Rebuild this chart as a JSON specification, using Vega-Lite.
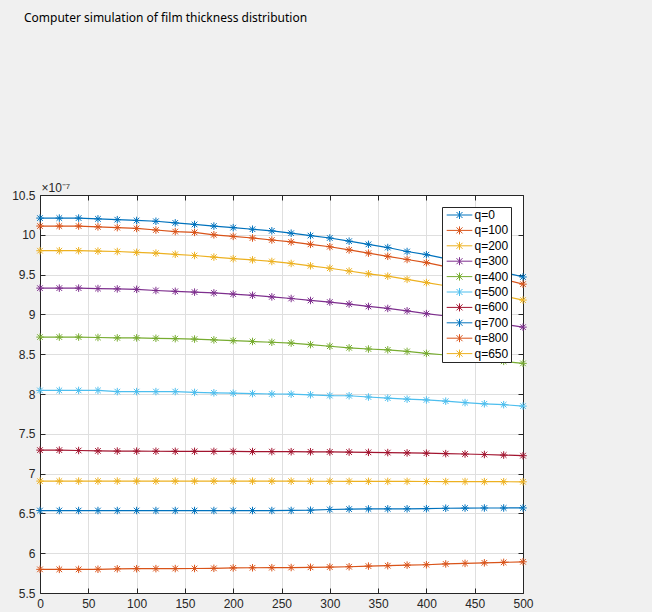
{
  "$schema": "https://vega.github.io/schema/vega-lite/v6.json",
  "autosize": "none",
  "width": 483,
  "height": 398,
  "padding": {"left": 40, "top": 195, "right": 129, "bottom": 19},
  "background": "#f0f0f0",
  "title": {"text": "Computer simulation of film thickness distribution", "anchor": "start", "frame": "group", "offset": 156, "dx": -16, "font": "Noto Sans", "fontSize": 12, "fontWeight": "normal", "color": "#000000"},
  "config": {
    "view": {"stroke": null, "fill": "white"},
    "axis": {"labelFont": "Liberation Sans", "labelFontSize": 12, "labelColor": "#262626", "domainColor": "#262626", "tickColor": "#262626", "tickSize": -5, "labelPadding": 9, "labelFlush": false, "gridColor": "#dfdfdf", "titleFont": "Liberation Sans", "titleFontWeight": "normal"}
  },
  "datasets": {
    "sim": [
      {"q":"q=0","x":0,"t":10.21},{"q":"q=0","x":20,"t":10.21},{"q":"q=0","x":40,"t":10.21},{"q":"q=0","x":60,"t":10.2},{"q":"q=0","x":80,"t":10.19},{"q":"q=0","x":100,"t":10.18},{"q":"q=0","x":120,"t":10.17},{"q":"q=0","x":140,"t":10.15},{"q":"q=0","x":160,"t":10.13},{"q":"q=0","x":180,"t":10.11},{"q":"q=0","x":200,"t":10.09},{"q":"q=0","x":220,"t":10.07},{"q":"q=0","x":240,"t":10.05},{"q":"q=0","x":260,"t":10.02},{"q":"q=0","x":280,"t":9.99},{"q":"q=0","x":300,"t":9.96},{"q":"q=0","x":320,"t":9.92},{"q":"q=0","x":340,"t":9.88},{"q":"q=0","x":360,"t":9.84},{"q":"q=0","x":380,"t":9.79},{"q":"q=0","x":400,"t":9.75},{"q":"q=0","x":420,"t":9.7},{"q":"q=0","x":440,"t":9.64},{"q":"q=0","x":460,"t":9.59},{"q":"q=0","x":480,"t":9.53},{"q":"q=0","x":500,"t":9.47},
      {"q":"q=100","x":0,"t":10.11},{"q":"q=100","x":20,"t":10.11},{"q":"q=100","x":40,"t":10.11},{"q":"q=100","x":60,"t":10.1},{"q":"q=100","x":80,"t":10.09},{"q":"q=100","x":100,"t":10.08},{"q":"q=100","x":120,"t":10.06},{"q":"q=100","x":140,"t":10.04},{"q":"q=100","x":160,"t":10.03},{"q":"q=100","x":180,"t":10.0},{"q":"q=100","x":200,"t":9.98},{"q":"q=100","x":220,"t":9.96},{"q":"q=100","x":240,"t":9.935},{"q":"q=100","x":260,"t":9.91},{"q":"q=100","x":280,"t":9.88},{"q":"q=100","x":300,"t":9.85},{"q":"q=100","x":320,"t":9.81},{"q":"q=100","x":340,"t":9.77},{"q":"q=100","x":360,"t":9.73},{"q":"q=100","x":380,"t":9.69},{"q":"q=100","x":400,"t":9.65},{"q":"q=100","x":420,"t":9.6},{"q":"q=100","x":440,"t":9.55},{"q":"q=100","x":460,"t":9.5},{"q":"q=100","x":480,"t":9.44},{"q":"q=100","x":500,"t":9.38},
      {"q":"q=200","x":0,"t":9.8},{"q":"q=200","x":20,"t":9.8},{"q":"q=200","x":40,"t":9.8},{"q":"q=200","x":60,"t":9.795},{"q":"q=200","x":80,"t":9.79},{"q":"q=200","x":100,"t":9.78},{"q":"q=200","x":120,"t":9.77},{"q":"q=200","x":140,"t":9.755},{"q":"q=200","x":160,"t":9.74},{"q":"q=200","x":180,"t":9.72},{"q":"q=200","x":200,"t":9.7},{"q":"q=200","x":220,"t":9.685},{"q":"q=200","x":240,"t":9.665},{"q":"q=200","x":260,"t":9.64},{"q":"q=200","x":280,"t":9.61},{"q":"q=200","x":300,"t":9.58},{"q":"q=200","x":320,"t":9.545},{"q":"q=200","x":340,"t":9.51},{"q":"q=200","x":360,"t":9.48},{"q":"q=200","x":380,"t":9.44},{"q":"q=200","x":400,"t":9.4},{"q":"q=200","x":420,"t":9.36},{"q":"q=200","x":440,"t":9.32},{"q":"q=200","x":460,"t":9.27},{"q":"q=200","x":480,"t":9.23},{"q":"q=200","x":500,"t":9.18},
      {"q":"q=300","x":0,"t":9.33},{"q":"q=300","x":20,"t":9.33},{"q":"q=300","x":40,"t":9.33},{"q":"q=300","x":60,"t":9.325},{"q":"q=300","x":80,"t":9.32},{"q":"q=300","x":100,"t":9.315},{"q":"q=300","x":120,"t":9.3},{"q":"q=300","x":140,"t":9.29},{"q":"q=300","x":160,"t":9.28},{"q":"q=300","x":180,"t":9.27},{"q":"q=300","x":200,"t":9.255},{"q":"q=300","x":220,"t":9.24},{"q":"q=300","x":240,"t":9.22},{"q":"q=300","x":260,"t":9.2},{"q":"q=300","x":280,"t":9.175},{"q":"q=300","x":300,"t":9.155},{"q":"q=300","x":320,"t":9.13},{"q":"q=300","x":340,"t":9.1},{"q":"q=300","x":360,"t":9.075},{"q":"q=300","x":380,"t":9.045},{"q":"q=300","x":400,"t":9.01},{"q":"q=300","x":420,"t":8.98},{"q":"q=300","x":440,"t":8.945},{"q":"q=300","x":460,"t":8.91},{"q":"q=300","x":480,"t":8.875},{"q":"q=300","x":500,"t":8.84},
      {"q":"q=400","x":0,"t":8.715},{"q":"q=400","x":20,"t":8.715},{"q":"q=400","x":40,"t":8.715},{"q":"q=400","x":60,"t":8.71},{"q":"q=400","x":80,"t":8.705},{"q":"q=400","x":100,"t":8.705},{"q":"q=400","x":120,"t":8.7},{"q":"q=400","x":140,"t":8.695},{"q":"q=400","x":160,"t":8.69},{"q":"q=400","x":180,"t":8.68},{"q":"q=400","x":200,"t":8.67},{"q":"q=400","x":220,"t":8.66},{"q":"q=400","x":240,"t":8.65},{"q":"q=400","x":260,"t":8.64},{"q":"q=400","x":280,"t":8.62},{"q":"q=400","x":300,"t":8.6},{"q":"q=400","x":320,"t":8.58},{"q":"q=400","x":340,"t":8.565},{"q":"q=400","x":360,"t":8.555},{"q":"q=400","x":380,"t":8.535},{"q":"q=400","x":400,"t":8.51},{"q":"q=400","x":420,"t":8.49},{"q":"q=400","x":440,"t":8.465},{"q":"q=400","x":460,"t":8.44},{"q":"q=400","x":480,"t":8.41},{"q":"q=400","x":500,"t":8.385},
      {"q":"q=500","x":0,"t":8.045},{"q":"q=500","x":20,"t":8.045},{"q":"q=500","x":40,"t":8.045},{"q":"q=500","x":60,"t":8.045},{"q":"q=500","x":80,"t":8.03},{"q":"q=500","x":100,"t":8.03},{"q":"q=500","x":120,"t":8.03},{"q":"q=500","x":140,"t":8.03},{"q":"q=500","x":160,"t":8.02},{"q":"q=500","x":180,"t":8.015},{"q":"q=500","x":200,"t":8.01},{"q":"q=500","x":220,"t":8.005},{"q":"q=500","x":240,"t":8.0},{"q":"q=500","x":260,"t":7.998},{"q":"q=500","x":280,"t":7.99},{"q":"q=500","x":300,"t":7.98},{"q":"q=500","x":320,"t":7.978},{"q":"q=500","x":340,"t":7.962},{"q":"q=500","x":360,"t":7.948},{"q":"q=500","x":380,"t":7.935},{"q":"q=500","x":400,"t":7.925},{"q":"q=500","x":420,"t":7.91},{"q":"q=500","x":440,"t":7.892},{"q":"q=500","x":460,"t":7.877},{"q":"q=500","x":480,"t":7.866},{"q":"q=500","x":500,"t":7.848},
      {"q":"q=600","x":0,"t":7.295},{"q":"q=600","x":20,"t":7.295},{"q":"q=600","x":40,"t":7.29},{"q":"q=600","x":60,"t":7.285},{"q":"q=600","x":80,"t":7.283},{"q":"q=600","x":100,"t":7.282},{"q":"q=600","x":120,"t":7.281},{"q":"q=600","x":140,"t":7.28},{"q":"q=600","x":160,"t":7.28},{"q":"q=600","x":180,"t":7.279},{"q":"q=600","x":200,"t":7.278},{"q":"q=600","x":220,"t":7.277},{"q":"q=600","x":240,"t":7.276},{"q":"q=600","x":260,"t":7.275},{"q":"q=600","x":280,"t":7.274},{"q":"q=600","x":300,"t":7.272},{"q":"q=600","x":320,"t":7.27},{"q":"q=600","x":340,"t":7.267},{"q":"q=600","x":360,"t":7.264},{"q":"q=600","x":380,"t":7.26},{"q":"q=600","x":400,"t":7.256},{"q":"q=600","x":420,"t":7.251},{"q":"q=600","x":440,"t":7.246},{"q":"q=600","x":460,"t":7.24},{"q":"q=600","x":480,"t":7.233},{"q":"q=600","x":500,"t":7.225},
      {"q":"q=700","x":0,"t":6.536},{"q":"q=700","x":20,"t":6.536},{"q":"q=700","x":40,"t":6.536},{"q":"q=700","x":60,"t":6.536},{"q":"q=700","x":80,"t":6.536},{"q":"q=700","x":100,"t":6.536},{"q":"q=700","x":120,"t":6.536},{"q":"q=700","x":140,"t":6.536},{"q":"q=700","x":160,"t":6.536},{"q":"q=700","x":180,"t":6.536},{"q":"q=700","x":200,"t":6.536},{"q":"q=700","x":220,"t":6.536},{"q":"q=700","x":240,"t":6.536},{"q":"q=700","x":260,"t":6.537},{"q":"q=700","x":280,"t":6.54},{"q":"q=700","x":300,"t":6.549},{"q":"q=700","x":320,"t":6.554},{"q":"q=700","x":340,"t":6.556},{"q":"q=700","x":360,"t":6.557},{"q":"q=700","x":380,"t":6.558},{"q":"q=700","x":400,"t":6.559},{"q":"q=700","x":420,"t":6.565},{"q":"q=700","x":440,"t":6.567},{"q":"q=700","x":460,"t":6.568},{"q":"q=700","x":480,"t":6.568},{"q":"q=700","x":500,"t":6.569},
      {"q":"q=800","x":0,"t":5.797},{"q":"q=800","x":20,"t":5.797},{"q":"q=800","x":40,"t":5.797},{"q":"q=800","x":60,"t":5.798},{"q":"q=800","x":80,"t":5.804},{"q":"q=800","x":100,"t":5.805},{"q":"q=800","x":120,"t":5.806},{"q":"q=800","x":140,"t":5.807},{"q":"q=800","x":160,"t":5.808},{"q":"q=800","x":180,"t":5.81},{"q":"q=800","x":200,"t":5.815},{"q":"q=800","x":220,"t":5.817},{"q":"q=800","x":240,"t":5.818},{"q":"q=800","x":260,"t":5.82},{"q":"q=800","x":280,"t":5.823},{"q":"q=800","x":300,"t":5.826},{"q":"q=800","x":320,"t":5.83},{"q":"q=800","x":340,"t":5.838},{"q":"q=800","x":360,"t":5.843},{"q":"q=800","x":380,"t":5.85},{"q":"q=800","x":400,"t":5.855},{"q":"q=800","x":420,"t":5.865},{"q":"q=800","x":440,"t":5.872},{"q":"q=800","x":460,"t":5.879},{"q":"q=800","x":480,"t":5.885},{"q":"q=800","x":500,"t":5.892},
      {"q":"q=650","x":0,"t":6.9059},{"q":"q=650","x":20,"t":6.9059},{"q":"q=650","x":40,"t":6.9059},{"q":"q=650","x":60,"t":6.9059},{"q":"q=650","x":80,"t":6.9059},{"q":"q=650","x":100,"t":6.9058},{"q":"q=650","x":120,"t":6.9058},{"q":"q=650","x":140,"t":6.9058},{"q":"q=650","x":160,"t":6.9057},{"q":"q=650","x":180,"t":6.9056},{"q":"q=650","x":200,"t":6.9055},{"q":"q=650","x":220,"t":6.905},{"q":"q=650","x":240,"t":6.905},{"q":"q=650","x":260,"t":6.905},{"q":"q=650","x":280,"t":6.904},{"q":"q=650","x":300,"t":6.904},{"q":"q=650","x":320,"t":6.903},{"q":"q=650","x":340,"t":6.903},{"q":"q=650","x":360,"t":6.902},{"q":"q=650","x":380,"t":6.902},{"q":"q=650","x":400,"t":6.901},{"q":"q=650","x":420,"t":6.9},{"q":"q=650","x":440,"t":6.9},{"q":"q=650","x":460,"t":6.899},{"q":"q=650","x":480,"t":6.898},{"q":"q=650","x":500,"t":6.897}
    ]
  },
  "data": {"name": "sim"},
  "layer": [
    {
      "mark": {"type": "line", "strokeWidth": 1.2, "clip": true},
      "encoding": {
        "x": {"field": "x", "type": "quantitative", "scale": {"domain": [0, 500], "nice": false}, "axis": {"orient": "bottom", "values": [0,50,100,150,200,250,300,350,400,450,500], "title": null, "grid": true, "labelPadding": 10}},
        "y": {"field": "t", "type": "quantitative", "scale": {"domain": [5.5, 10.5], "nice": false, "zero": false}, "axis": {"orient": "left", "values": [5.5,6,6.5,7,7.5,8,8.5,9,9.5,10,10.5], "format": "~g", "grid": true, "title": "×10⁻⁷", "titleAngle": 0, "titleAlign": "left", "titleBaseline": "alphabetic", "titleX": 1, "titleY": -4, "titleFontSize": 12, "titleColor": "#262626", "labelPadding": 10}},
        "color": {"field": "q", "type": "nominal", "scale": {"domain": ["q=0","q=100","q=200","q=300","q=400","q=500","q=600","q=700","q=800","q=650"], "range": ["#0072BD","#D95319","#EDB120","#7E2F8E","#77AC30","#4DBEEE","#A2142F","#0072BD","#D95319","#EDB120"]},
          "legend": {"orient": "none", "legendX": 402, "legendY": 12, "title": null, "strokeColor": "#262626", "fillColor": "white", "padding": 2, "rowPadding": 3.4, "labelFont": "Liberation Sans", "labelFontSize": 12, "labelColor": "#000000", "symbolType": "M-3.2,0L3.2,0M0,-1L0,1M-0.75,-0.75L0.75,0.75M-0.75,0.75L0.75,-0.75", "symbolSize": 64, "symbolStrokeWidth": 1, "symbolFillColor": "transparent", "symbolOffset": 9.5, "labelOffset": 9}}
      }
    },
    {
      "mark": {"type": "point", "shape": "M-1,0L1,0M0,-1L0,1M-0.75,-0.75L0.75,0.75M-0.75,0.75L0.75,-0.75", "filled": false, "size": 56, "strokeWidth": 1, "opacity": 1},
      "encoding": {
        "x": {"field": "x", "type": "quantitative", "axis": {"orient": "top", "values": [0,50,100,150,200,250,300,350,400,450,500], "labels": false, "title": null, "grid": false}},
        "y": {"field": "t", "type": "quantitative", "axis": {"orient": "right", "values": [5.5,6,6.5,7,7.5,8,8.5,9,9.5,10,10.5], "labels": false, "title": null, "grid": false}},
        "color": {"field": "q", "type": "nominal", "legend": null}
      }
    }
  ],
  "resolve": {"axis": {"x": "independent", "y": "independent"}}
}
